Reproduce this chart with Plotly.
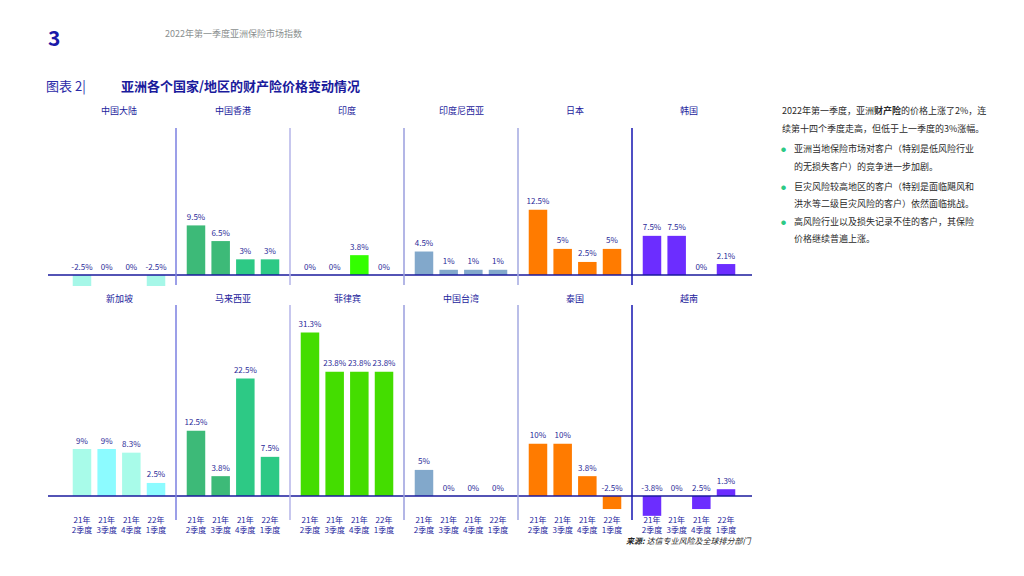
import plotly.graph_objects as go

# ---------------- data ----------------
quarters = ["21年2季度", "21年3季度", "21年4季度", "22年1季度"]
quarter_ticks = ["21年<br>2季度", "21年<br>3季度", "21年<br>4季度", "22年<br>1季度"]

countries_top = ["中国大陆", "中国香港", "印度", "印度尼西亚", "日本", "韩国"]
countries_bottom = ["新加坡", "马来西亚", "菲律宾", "中国台湾", "泰国", "越南"]

china = [-2.5, 0, 0, -2.5]
hongkong = [9.5, 6.5, 3, 3]
india = [0, 0, 3.8, 0]
indonesia = [4.5, 1, 1, 1]
japan = [12.5, 5, 2.5, 5]
korea = [7.5, 7.5, 0, 2.1]
singapore = [9, 9, 8.3, 2.5]
malaysia = [12.5, 3.8, 22.5, 7.5]
philippines = [31.3, 23.8, 23.8, 23.8]
taiwan = [5, 0, 0, 0]
thailand = [10, 10, 3.8, -2.5]
vietnam = [-3.8, 0, -2.5, 1.3]

# label printed in the source differs from the bar direction for this one
label_overrides = {("越南", 2): "2.5%"}

values_top = [china, hongkong, india, indonesia, japan, korea]
values_bottom = [singapore, malaysia, philippines, taiwan, thailand, vietnam]

colors_top = [
    ["#a6f7e8"] * 4,
    ["#3dba78", "#3dba78", "#2dc985", "#2dc985"],
    ["#33ff00"] * 4,
    ["#82a8cb"] * 4,
    ["#ff7b00"] * 4,
    ["#6c2dff"] * 4,
]
colors_bottom = [
    ["#a8fbe9", "#8cfbff", "#a8fbe9", "#8cfbff"],
    ["#3dba78", "#3dba78", "#2dc985", "#2dc985"],
    ["#44dd00"] * 4,
    ["#82a8cb"] * 4,
    ["#ff7b00"] * 4,
    ["#6c2dff"] * 4,
]

# ---------------- layout helpers ----------------
W, H = 1024, 576
OFF = 8  # page body margin offset
FONT = "Noto Sans CJK SC"
NAVY = "#1c1c9c"
LABEL = "#2b2b99"


def px(x):
    return (x - OFF) / W


def py(y):
    return 1 - (y - OFF) / H


K = 5.22  # pixels per percentage point
rows = [
    dict(top=128, bottom=286, zero=275, title_y=110, names=countries_top,
         values=values_top, colors=colors_top, ticks=False, line_bottom=285),
    dict(top=305, bottom=520, zero=496, title_y=298, names=countries_bottom,
         values=values_bottom, colors=colors_bottom, ticks=True, line_bottom=520),
]
PANEL_LEFT = 62
PANEL_W = 114
SEP_COLORS = ["#7b7fe0", "#b4b4e8", "#9a9ede", "#a3a8e0", "#1515b0"]

fig = go.Figure()
layout = dict(
    width=W, height=H,
    margin=dict(l=0, r=0, t=0, b=0),
    paper_bgcolor="white", plot_bgcolor="rgba(0,0,0,0)",
    showlegend=False, bargap=0.25,
    font=dict(family=FONT, color=NAVY),
)
shapes = []
annotations = []

n = 0
for r, row in enumerate(rows):
    yr = [-(row["bottom"] - row["zero"]) / K, (row["zero"] - row["top"]) / K]
    for i, name in enumerate(row["names"]):
        n += 1
        xa = "xaxis" if n == 1 else f"xaxis{n}"
        ya = "yaxis" if n == 1 else f"yaxis{n}"
        xr = "x" if n == 1 else f"x{n}"
        yref = "y" if n == 1 else f"y{n}"
        vals = row["values"][i]
        left = PANEL_LEFT + PANEL_W * i
        xaxis = dict(
            domain=[px(left), px(left + PANEL_W)],
            type="category", categoryorder="array", categoryarray=quarters,
            range=[-0.81, 3.81], showgrid=False, zeroline=False, showline=False,
            ticks="", fixedrange=True,
        )
        if row["ticks"]:
            xaxis.update(
                anchor="free", position=py(514), showticklabels=True,
                tickmode="array", tickvals=quarters, ticktext=quarter_ticks,
                tickfont=dict(size=8, color=NAVY, family=FONT),
            )
        else:
            xaxis.update(anchor=yref, showticklabels=False)
        layout[xa] = xaxis
        layout[ya] = dict(
            domain=[py(row["bottom"]), py(row["top"])], range=yr, anchor=xr,
            visible=False, fixedrange=True,
        )
        fig.add_trace(go.Bar(
            x=quarters, y=vals, xaxis=xr, yaxis=yref,
            marker=dict(color=row["colors"][i], line=dict(width=0)),
            hoverinfo="skip",
        ))
        texts = [label_overrides.get((name, j), f"{v:g}%") for j, v in enumerate(vals)]
        fig.add_trace(go.Scatter(
            x=quarters, y=[max(v, 0) + 3.5 / K for v in vals], xaxis=xr, yaxis=yref,
            mode="text", text=texts, textposition="top center",
            textfont=dict(size=8, color=LABEL, family=FONT),
            cliponaxis=False, hoverinfo="skip",
        ))
        annotations.append(dict(
            x=px(left + PANEL_W / 2), y=py(row["title_y"]), xref="paper", yref="paper",
            text=name, showarrow=False, xanchor="center", yanchor="middle",
            font=dict(size=9, color=NAVY, family=FONT),
        ))
        if i == 0:
            # baseline across the whole row
            shapes.append(dict(
                type="line", xref="paper", yref=yref, x0=px(48), x1=px(752), y0=0, y1=0,
                line=dict(color="#1a1a9c", width=1.5), layer="above",
            ))
        else:
            shapes.append(dict(
                type="line", xref="paper", yref="paper",
                x0=px(left), x1=px(left), y0=py(row["top"]), y1=py(row["line_bottom"]),
                line=dict(color=SEP_COLORS[i - 1], width=1.5),
            ))

# ---------------- header / text ----------------
head = [
    dict(x=px(46), y=py(37), text="<b>3</b>", font=dict(size=21, color="#1a1aa8", family=FONT)),
    dict(x=px(163), y=py(33), text="2022年第一季度亚洲保险市场指数",
         font=dict(size=9, color="#8a8f8f", family=FONT)),
    dict(x=px(44), y=py(85), text="图表 2|", font=dict(size=13, color="#2a2aa8", family=FONT)),
    dict(x=px(119), y=py(85), text="<b>亚洲各个国家/地区的财产险价格变动情况</b>",
         font=dict(size=13, color="#1a1a9c", family=FONT)),
]
for a in head:
    a.update(xref="paper", yref="paper", showarrow=False, xanchor="left", yanchor="middle")
annotations += head

TXT = "#2a2a2a"
right_lines = [
    (780, 111, "2022年第一季度，亚洲<b>财产险</b>的价格上涨了2%，连"),
    (780, 128, "续第十四个季度走高，但低于上一季度的3%涨幅。"),
    (792, 149, "亚洲当地保险市场对客户（特别是低风险行业"),
    (792, 166, "的无损失客户）的竞争进一步加剧。"),
    (792, 186, "巨灾风险较高地区的客户（特别是面临飓风和"),
    (792, 203, "洪水等二级巨灾风险的客户）依然面临挑战。"),
    (792, 221, "高风险行业以及损失记录不佳的客户，其保险"),
    (792, 238, "价格继续普遍上涨。"),
]
for x, y, t in right_lines:
    annotations.append(dict(
        x=px(x), y=py(y), xref="paper", yref="paper", text=t, showarrow=False,
        xanchor="left", yanchor="middle", font=dict(size=9, color=TXT, family=FONT),
    ))
for y in (149, 186, 221):
    annotations.append(dict(
        x=px(779), y=py(y), xref="paper", yref="paper", text="●", showarrow=False,
        xanchor="left", yanchor="middle", font=dict(size=5, color="#2dc985", family=FONT),
    ))

annotations.append(dict(
    x=px(753), y=py(540), xref="paper", yref="paper",
    text="<i><b>来源:</b> 达信专业风险及全球排分部门</i>", showarrow=False,
    xanchor="right", yanchor="middle", font=dict(size=8, color="#222222", family=FONT),
))

layout["shapes"] = shapes
layout["annotations"] = annotations
fig.update_layout(**layout)
fig.write_html("out.html")
